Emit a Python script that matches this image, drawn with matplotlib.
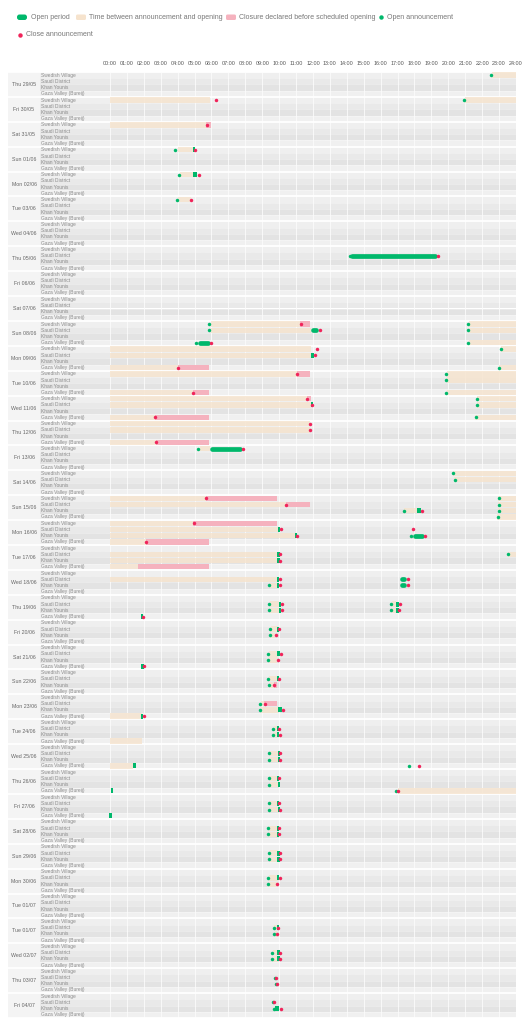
import matplotlib
matplotlib.use('Agg')
import matplotlib.pyplot as plt
from matplotlib.patches import FancyBboxPatch

plt.rcParams['font.family'] = ['Liberation Sans', 'DejaVu Sans']

# Data
days = ['Thu 29/05', 'Fri 30/05', 'Sat 31/05', 'Sun 01/06', 'Mon 02/06', 'Tue 03/06',
        'Wed 04/06', 'Thu 05/06', 'Fri 06/06', 'Sat 07/06', 'Sun 08/06', 'Mon 09/06',
        'Tue 10/06', 'Wed 11/06', 'Thu 12/06', 'Fri 13/06', 'Sat 14/06', 'Sun 15/06',
        'Mon 16/06', 'Tue 17/06', 'Wed 18/06', 'Thu 19/06', 'Fri 20/06', 'Sat 21/06',
        'Sun 22/06', 'Mon 23/06', 'Tue 24/06', 'Wed 25/06', 'Thu 26/06', 'Fri 27/06',
        'Sat 28/06', 'Sun 29/06', 'Mon 30/06', 'Tue 01/07', 'Tue 01/07', 'Wed 02/07',
        'Thu 03/07', 'Fri 04/07']
locations = ['Swedish Village', 'Saudi District', 'Khan Younis', 'Gaza Valley (Bureij)']
SV, SD, KY, GV = 0, 1, 2, 3
hour_labels = ['%02d:00' % h for h in range(25)]

# (day index, location, start hour, end hour)
wait_periods = [
    (0, SV, 22.6, 24), (1, SV, 0, 5.92), (1, SV, 21.0, 24), (2, SV, 0, 5.7),
    (3, SV, 4.0, 4.95), (4, SV, 4.15, 4.9), (5, SV, 4.0, 4.77),
    (10, SV, 5.95, 11.25), (10, SV, 21.2, 24), (10, SD, 5.95, 11.87), (10, SD, 21.2, 24),
    (10, GV, 21.2, 24),
    (11, SV, 0, 11.87), (11, SV, 23.1, 24), (11, SD, 0, 11.87), (11, GV, 0, 4.0),
    (11, GV, 23.0, 24),
    (12, SV, 0, 11.05), (12, SV, 19.9, 24), (12, SD, 19.9, 24), (12, GV, 0, 4.9),
    (12, GV, 19.9, 24),
    (13, SV, 0, 11.64), (13, SV, 21.7, 24), (13, SD, 0, 11.9), (13, SD, 21.7, 24),
    (13, GV, 0, 2.66), (13, GV, 21.6, 24),
    (14, SV, 0, 11.8), (14, SD, 0, 11.83), (14, GV, 0, 2.7),
    (15, SV, 5.3, 5.9), (16, SV, 20.25, 24), (16, SD, 20.35, 24),
    (17, SV, 0, 5.68), (17, SV, 22.95, 24), (17, SD, 0, 10.4), (17, SD, 22.95, 24),
    (17, KY, 17.4, 18.15), (17, KY, 22.95, 24), (17, GV, 22.9, 24),
    (18, SV, 0, 4.93), (18, SD, 0, 9.92), (18, KY, 0, 10.95), (18, GV, 0, 2.11),
    (19, SD, 0, 9.92), (19, SD, 23.5, 24), (19, KY, 0, 9.92), (19, GV, 0, 1.64),
    (20, SD, 0, 9.92), (20, KY, 9.43, 9.92),
    (21, SD, 9.43, 9.98), (21, SD, 16.67, 16.9), (21, KY, 9.43, 9.98), (21, KY, 16.67, 16.9),
    (22, SD, 9.49, 9.92), (22, KY, 9.49, 9.78),
    (23, SD, 9.39, 9.92), (23, KY, 9.39, 9.9),
    (24, SD, 9.39, 9.92), (24, KY, 9.43, 9.67),
    (25, SD, 8.9, 9.13), (25, KY, 8.9, 9.92), (25, GV, 0, 1.87),
    (26, SD, 9.68, 9.92), (26, KY, 9.68, 9.92), (26, GV, 0, 1.87),
    (27, SD, 9.45, 9.92), (27, KY, 9.45, 9.92), (27, GV, 0, 1.38),
    (28, SD, 9.45, 9.92), (28, KY, 9.45, 9.92), (28, GV, 17.05, 24),
    (29, SD, 9.45, 9.92), (29, KY, 9.45, 9.92),
    (30, SD, 9.39, 9.92), (30, KY, 9.39, 9.92),
    (31, SD, 9.43, 9.92), (31, KY, 9.43, 9.92),
    (32, SD, 9.39, 9.92), (32, KY, 9.39, 9.9),
    (34, SD, 9.72, 9.92), (34, KY, 9.75, 9.9),
    (35, SD, 9.62, 9.92), (35, KY, 9.62, 9.92),
]

open_periods = [
    (1, SV, 5.92, 6.2), (3, SV, 4.93, 5.0), (4, SV, 4.9, 5.17), (7, SD, 14.14, 19.33),
    (10, SD, 11.87, 12.33), (10, GV, 5.17, 5.96), (11, SV, 11.87, 12.15),
    (11, SD, 11.87, 12.03), (13, SD, 11.9, 11.95), (15, SV, 5.9, 7.8),
    (17, KY, 18.15, 18.38), (18, SD, 9.92, 10.06), (18, KY, 10.95, 11.0),
    (18, KY, 17.89, 18.58), (19, SD, 9.92, 10.0), (19, KY, 9.92, 10.0),
    (20, SD, 9.92, 9.98), (20, KY, 9.92, 9.98), (20, SD, 17.13, 17.52), (20, KY, 17.13, 17.52),
    (21, SD, 9.98, 10.1), (21, KY, 9.98, 10.1), (21, SD, 16.9, 17.06), (21, KY, 16.9, 17.06),
    (21, GV, 1.87, 1.93), (22, SD, 9.92, 9.96), (23, SD, 9.92, 10.0), (23, GV, 1.87, 1.97),
    (24, SD, 9.92, 9.96), (25, KY, 9.92, 10.16), (25, GV, 1.87, 1.95),
    (26, SD, 9.92, 9.96), (26, KY, 9.92, 9.98),
    (27, SD, 9.92, 10.02), (27, KY, 9.92, 10.02), (27, GV, 1.38, 1.54), (27, GV, 17.89, 18.19),
    (28, SD, 9.92, 9.96), (28, KY, 9.92, 10.02), (28, GV, 0.06, 0.14),
    (29, SD, 9.92, 9.96), (29, KY, 9.92, 10.02), (29, GV, 0.0, 0.06),
    (30, SD, 9.92, 9.98), (30, KY, 9.92, 9.98), (31, SD, 9.92, 10.0), (31, KY, 9.92, 10.0),
    (32, SD, 9.92, 9.96), (34, SD, 9.92, 9.95), (35, SD, 9.92, 10.0), (35, KY, 9.92, 10.0),
    (37, KY, 9.78, 9.98),
]

closure_periods = [
    (2, SV, 5.7, 5.96), (10, SV, 11.26, 11.83), (11, GV, 4.0, 5.86), (12, SV, 11.05, 11.83),
    (12, GV, 4.9, 5.86), (13, SV, 11.64, 11.87), (13, GV, 2.66, 5.86), (14, GV, 2.7, 5.86),
    (17, SV, 5.68, 9.86), (17, SD, 10.4, 11.83), (18, SV, 4.93, 9.86), (18, GV, 2.11, 5.86),
    (19, GV, 1.64, 5.86), (24, KY, 9.67, 9.86), (25, SD, 9.13, 9.86),
]

# (day index, location, hour)
open_announcements = [
    (0, SV, 22.55), (1, SV, 20.95), (3, SV, 3.85), (4, SV, 4.08), (5, SV, 3.94),
    (7, SD, 14.2), (10, SV, 5.88), (10, SD, 5.88), (10, GV, 5.1),
    (10, SV, 21.16), (10, SD, 21.16), (10, GV, 21.16), (11, SV, 23.1), (11, GV, 23.02),
    (12, SV, 19.88), (12, SD, 19.88), (12, GV, 19.88),
    (13, SV, 21.7), (13, SD, 21.7), (13, GV, 21.63), (15, SV, 5.23),
    (16, SV, 20.27), (16, SD, 20.37), (17, KY, 17.35),
    (17, SV, 22.97), (17, SD, 22.97), (17, KY, 22.97), (17, GV, 22.92),
    (18, KY, 17.8), (19, SD, 23.52), (20, KY, 9.39),
    (21, SD, 9.39), (21, KY, 9.39), (21, SD, 16.6), (21, KY, 16.6),
    (22, SD, 9.45), (22, KY, 9.45), (23, SD, 9.35), (23, KY, 9.35),
    (24, SD, 9.35), (24, KY, 9.39), (25, SD, 8.85), (25, KY, 8.85),
    (26, SD, 9.64), (26, KY, 9.64), (27, SD, 9.41), (27, KY, 9.41), (27, GV, 17.7),
    (28, SD, 9.41), (28, KY, 9.41), (28, GV, 16.93), (29, SD, 9.41), (29, KY, 9.41),
    (30, SD, 9.35), (30, KY, 9.35), (31, SD, 9.39), (31, KY, 9.39),
    (32, SD, 9.35), (32, KY, 9.35), (34, SD, 9.68), (34, KY, 9.72),
    (35, SD, 9.58), (35, KY, 9.58), (36, SD, 9.78), (36, KY, 9.83),
    (37, SD, 9.64), (37, KY, 9.72),
]

close_announcements = [
    (1, SV, 6.27), (2, SV, 5.72), (3, SV, 5.03), (4, SV, 5.27), (5, SV, 4.78),
    (7, SD, 19.38), (10, SV, 11.28), (10, SD, 12.4), (10, GV, 6.0),
    (11, SV, 12.23), (11, SD, 12.1), (11, GV, 4.0), (12, SV, 11.07), (12, GV, 4.9),
    (13, SV, 11.65), (13, SD, 11.93), (13, GV, 2.67), (14, SV, 11.8), (14, SD, 11.85),
    (14, GV, 2.7), (15, SV, 7.87), (17, SV, 5.7), (17, SD, 10.41), (17, KY, 18.45),
    (18, SV, 4.95), (18, SD, 10.13), (18, SD, 17.93), (18, KY, 11.07), (18, KY, 18.65),
    (18, GV, 2.12), (19, SD, 10.06), (19, KY, 10.06),
    (20, SD, 10.02), (20, KY, 10.02), (20, SD, 17.6), (20, KY, 17.6),
    (21, SD, 10.16), (21, KY, 10.14), (21, SD, 17.13), (21, KY, 17.11), (21, GV, 1.97),
    (22, SD, 9.98), (22, KY, 9.8), (23, SD, 10.08), (23, KY, 9.92), (23, GV, 2.03),
    (24, SD, 10.0), (24, KY, 9.67), (25, SD, 9.15), (25, KY, 10.24), (25, GV, 2.02),
    (26, SD, 9.98), (26, KY, 10.03), (27, SD, 10.06), (27, KY, 10.06), (27, GV, 18.25),
    (28, SD, 9.98), (28, GV, 17.03), (29, SD, 9.98), (29, KY, 10.06),
    (30, SD, 9.98), (30, KY, 9.98), (31, SD, 10.06), (31, KY, 10.06),
    (32, SD, 10.02), (32, KY, 9.9), (34, SD, 9.96), (34, KY, 9.9),
    (35, SD, 10.06), (35, KY, 10.06), (36, SD, 9.83), (36, KY, 9.9),
    (37, SD, 9.7), (37, KY, 10.08),
]

# Colours
GREEN = '#00b86b'
RED = '#f0245a'
PEACH = '#f6e3cd'
PINK = '#f5b2be'
ROW_COLORS = ['#efefef', '#e9e9e9', '#e3e3e3', '#f0f0f0']

n_loc = len(locations)
n_rows = len(days) * n_loc


def row_y(d, loc):
    return d * n_loc + loc + 0.5


# Figure: 528 x 1024 px
W, H = 528, 1024
fig = plt.figure(figsize=(W / 100, H / 100), dpi=100)
fig.patch.set_facecolor('white')

px_per_hour = (516 - 110) / 24
x_left = -(110 - 8) / px_per_hour
x_split = -(110 - 40) / px_per_hour

ax = fig.add_axes([8 / W, 1 - 1018 / H, 508 / W, 946 / H])
ax.set_xlim(x_left, 24)
ax.set_ylim(n_rows, 0)

# row backgrounds
rows = list(range(n_rows))
ax.barh([r + 0.5 for r in rows], 24 - x_split, left=x_split, height=1,
        color=[ROW_COLORS[r % n_loc] for r in rows], linewidth=0, zorder=1)
ax.barh([d * n_loc + n_loc / 2 for d in range(len(days))], x_split - x_left, left=x_left,
        height=n_loc, color='#f4f4f4', linewidth=0, zorder=1)

# grid
ax.vlines(range(25), 0, n_rows, color='#fbfbfb', linewidth=0.6, zorder=1.5)
ax.hlines([r for r in rows if r % n_loc], x_split, 24, color='white', linewidth=0.4,
          linestyles=(0, (1, 1)), zorder=1.6)
ax.hlines(range(0, n_rows + 1, n_loc), x_left, 24, color='white', linewidth=1.3, zorder=1.7)

# wait periods
ax.barh([row_y(d, l) for d, l, s, e in wait_periods], [e - s for d, l, s, e in wait_periods],
        left=[s for d, l, s, e in wait_periods], height=0.86, color=PEACH, alpha=0.8,
        linewidth=0, zorder=3)
# closures declared before opening
ax.barh([row_y(d, l) for d, l, s, e in closure_periods], [e - s for d, l, s, e in closure_periods],
        left=[s for d, l, s, e in closure_periods], height=0.86, color=PINK,
        linewidth=0, zorder=3.5)

# open periods: long ones as pills, short ones as small blocks
lw_open = 3.4
cap = lw_open / 72 * 100 / 2 / px_per_hour
long_y, long_a, long_b = [], [], []
short_y, short_w, short_l = [], [], []
for d, l, s, e in open_periods:
    if e - s >= 2 * cap:
        long_y.append(row_y(d, l))
        long_a.append(s + cap)
        long_b.append(e - cap)
    else:
        w = max(e - s, 0.13)
        short_y.append(row_y(d, l))
        short_w.append(w)
        short_l.append((s + e) / 2 - w / 2)
ax.hlines(long_y, long_a, long_b, color=GREEN, linewidth=lw_open, capstyle='round', zorder=4)
ax.barh(short_y, short_w, left=short_l, height=0.8, color=GREEN, linewidth=0, zorder=4)

# announcements
ax.plot([t for d, l, t in open_announcements], [row_y(d, l) for d, l, t in open_announcements],
        'o', color=GREEN, markersize=2.5, markeredgewidth=0, zorder=5)
ax.plot([t for d, l, t in close_announcements], [row_y(d, l) for d, l, t in close_announcements],
        'o', color=RED, markersize=2.5, markeredgewidth=0, zorder=5)

# labels
for d, name in enumerate(days):
    ax.text((x_left + x_split) / 2, d * n_loc + n_loc / 2, name, ha='center', va='center',
            fontsize=3.8, color='#666666', zorder=6)
    for l, loc in enumerate(locations):
        ax.text(x_split + 0.07, row_y(d, l), loc, ha='left', va='center',
                fontsize=3.5, color='#8c8c8c', zorder=6)

ax.xaxis.tick_top()
ax.set_xticks(range(25))
ax.set_xticklabels(hour_labels, fontsize=3.9, color='#555555')
ax.tick_params(axis='x', length=0, pad=4)
ax.set_yticks([])
for sp in ax.spines.values():
    sp.set_visible(False)

# legend drawn in pixel units
lg = fig.add_axes([0, 1 - 45 / H, 1, 45 / H])
lg.set_xlim(0, W)
lg.set_ylim(45, 0)
lg.axis('off')
lg.add_patch(FancyBboxPatch((17, 14.5), 10, 5.5, boxstyle='round,pad=0,rounding_size=2.5',
                            color=GREEN, linewidth=0))
lg.text(31, 17.3, 'Open period', va='center', fontsize=5, color='#777777')
lg.add_patch(FancyBboxPatch((76, 14.5), 10, 5.5, boxstyle='round,pad=0,rounding_size=1.5',
                            color=PEACH, linewidth=0))
lg.text(89, 17.3, 'Time between announcement and opening', va='center', fontsize=5,
        color='#777777')
lg.add_patch(FancyBboxPatch((226, 14.5), 10, 5.5, boxstyle='round,pad=0,rounding_size=1.5',
                            color=PINK, linewidth=0))
lg.text(239, 17.3, 'Closure declared before scheduled opening', va='center', fontsize=5,
        color='#777777')
lg.plot([381], [17.3], 'o', color=GREEN, markersize=3.2, markeredgewidth=0)
lg.text(387, 17.3, 'Open announcement', va='center', fontsize=5, color='#777777')
lg.plot([20], [34.5], 'o', color=RED, markersize=3.2, markeredgewidth=0)
lg.text(26, 34.5, 'Close announcement', va='center', fontsize=5, color='#777777')

fig.savefig('out.png', dpi=100)
